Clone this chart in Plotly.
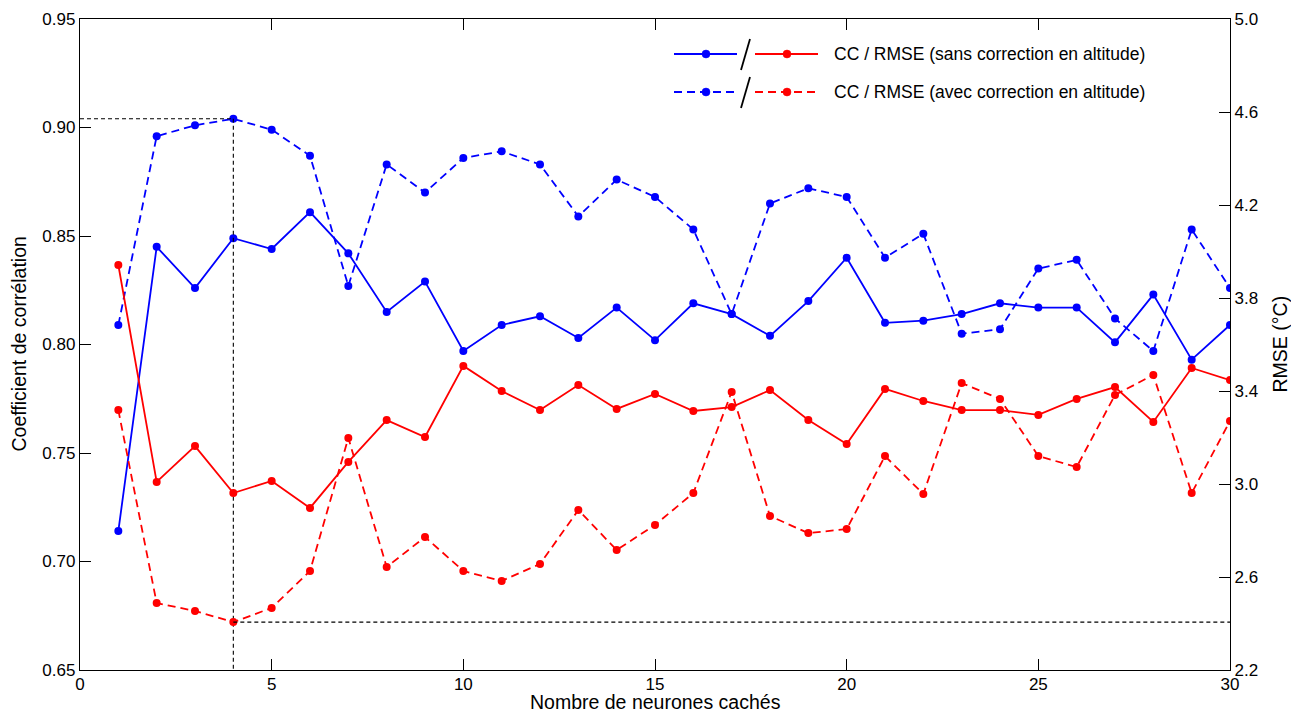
import plotly.graph_objects as go

# Nombre de neurones cachés
neurones = list(range(1, 31))

cc_sans = [0.714, 0.845, 0.826, 0.849, 0.844, 0.861, 0.842, 0.815, 0.829, 0.797,
           0.809, 0.813, 0.803, 0.817, 0.802, 0.819, 0.814, 0.804, 0.820, 0.840,
           0.810, 0.811, 0.814, 0.819, 0.817, 0.817, 0.801, 0.823, 0.793, 0.809]
cc_avec = [0.809, 0.896, 0.901, 0.904, 0.899, 0.887, 0.827, 0.883, 0.870, 0.886,
           0.889, 0.883, 0.859, 0.876, 0.868, 0.853, 0.814, 0.865, 0.872, 0.868,
           0.840, 0.851, 0.805, 0.807, 0.835, 0.839, 0.812, 0.797, 0.853, 0.826]
rmse_sans = [3.942, 3.009, 3.163, 2.961, 3.013, 2.897, 3.095, 3.275, 3.202, 3.508,
             3.400, 3.318, 3.426, 3.323, 3.387, 3.314, 3.331, 3.404, 3.275, 3.172,
             3.409, 3.357, 3.318, 3.318, 3.297, 3.366, 3.417, 3.267, 3.499, 3.447]
rmse_avec = [3.318, 2.488, 2.454, 2.406, 2.467, 2.626, 3.198, 2.643, 2.772, 2.626,
             2.583, 2.656, 2.888, 2.716, 2.824, 2.961, 3.396, 2.862, 2.789, 2.806,
             3.120, 2.957, 3.434, 3.366, 3.120, 3.073, 3.383, 3.469, 2.961, 3.271]

cc_ticks = [0.65, 0.70, 0.75, 0.80, 0.85, 0.90, 0.95]
rmse_ticks = [2.2, 2.6, 3.0, 3.4, 3.8, 4.2, 4.6, 5.0]
x_ticks = [0, 5, 10, 15, 20, 25, 30]

BLUE = "#0000ff"
RED = "#ff0000"
FONT = "Liberation Sans, Arial, sans-serif"

# page body has an 8px margin, so the figure is a bit smaller than the window
OFF = 8
W, H = 1299 - 2 * OFF, 722 - 2 * OFF
L, R, T, B = 80, 1230, 19, 670   # plot area in window pixels


def px_x(p):
    return (p - L) / (R - L)


def px_y(p):
    return (B - p) / (B - T)


fig = go.Figure()

line_w = 1.8
msize = 8
DASH = "8px,5px"

fig.add_trace(go.Scatter(x=neurones, y=cc_sans, mode="lines+markers", yaxis="y",
                         line=dict(color=BLUE, width=line_w),
                         marker=dict(color=BLUE, size=msize), showlegend=False))
fig.add_trace(go.Scatter(x=neurones, y=cc_avec, mode="lines+markers", yaxis="y",
                         line=dict(color=BLUE, width=line_w, dash=DASH),
                         marker=dict(color=BLUE, size=msize), showlegend=False))
fig.add_trace(go.Scatter(x=neurones, y=rmse_sans, mode="lines+markers", yaxis="y2",
                         line=dict(color=RED, width=line_w),
                         marker=dict(color=RED, size=msize), showlegend=False))
fig.add_trace(go.Scatter(x=neurones, y=rmse_avec, mode="lines+markers", yaxis="y2",
                         line=dict(color=RED, width=line_w, dash=DASH),
                         marker=dict(color=RED, size=msize), showlegend=False))

# optimum (avec correction)
i_best = cc_avec.index(max(cc_avec))
n_best = neurones[i_best]
ref = dict(color="black", width=1.1, dash="4px,3px")
fig.add_trace(go.Scatter(x=[0, n_best], y=[cc_avec[i_best]] * 2, mode="lines", yaxis="y",
                         line=ref, showlegend=False, hoverinfo="skip"))
fig.add_trace(go.Scatter(x=[n_best, n_best], y=[cc_avec[i_best], cc_ticks[0]], mode="lines",
                         yaxis="y", line=ref, showlegend=False, hoverinfo="skip"))
fig.add_trace(go.Scatter(x=[n_best, neurones[-1]], y=[rmse_avec[i_best]] * 2, mode="lines",
                         yaxis="y2", line=ref, showlegend=False, hoverinfo="skip"))

# custom legend: blue / red
shapes = []
annotations = []
rows = [(54, "solid", "CC / RMSE (sans correction en altitude)", 39, 70),
        (92, "dash", "CC / RMSE (avec correction en altitude)", 77, 108)]
for yy, dash, label, s_top, s_bot in rows:
    for x0, x1, xm, col in [(674, 737, 706, BLUE), (755, 818, 787, RED)]:
        ln = dict(color=col, width=line_w)
        if dash == "dash":
            ln["dash"] = DASH
        shapes.append(dict(type="line", xref="paper", yref="paper",
                           x0=px_x(x0), x1=px_x(x1), y0=px_y(yy), y1=px_y(yy), line=ln))
        shapes.append(dict(type="circle", xref="paper", yref="paper",
                           x0=px_x(xm - 4), x1=px_x(xm + 4),
                           y0=px_y(yy + 4), y1=px_y(yy - 4),
                           fillcolor=col, line=dict(color=col, width=0.5)))
    shapes.append(dict(type="line", xref="paper", yref="paper",
                       x0=px_x(741), x1=px_x(750), y0=px_y(s_bot), y1=px_y(s_top),
                       line=dict(color="black", width=1.8)))
    annotations.append(dict(xref="paper", yref="paper", x=px_x(832), y=px_y(yy),
                            xanchor="left", yanchor="middle", text=label, showarrow=False,
                            font=dict(size=17.5, color="black", family=FONT)))

# axis titles
title_font = dict(size=19.5, color="black", family=FONT)
annotations.append(dict(xref="paper", yref="paper", x=px_x((L + R) / 2),
                        y=px_y(H + OFF - 0.5), xanchor="center", yanchor="bottom",
                        showarrow=False, borderpad=0,
                        text="Nombre de neurones cachés", font=title_font))
annotations.append(dict(xref="paper", yref="paper", x=px_x(18), y=0.5, textangle=-90,
                        xanchor="center", yanchor="middle", showarrow=False,
                        text="Coefficient de corrélation", font=title_font))
annotations.append(dict(xref="paper", yref="paper", x=px_x(1279), y=0.5, textangle=-90,
                        xanchor="center", yanchor="middle", showarrow=False,
                        text="RMSE (°C)", font=title_font))

axis_common = dict(showline=True, linecolor="black", linewidth=1.3, ticks="inside",
                   ticklen=11, tickcolor="black", tickwidth=1.2, showgrid=False,
                   zeroline=False, automargin=False,
                   tickfont=dict(size=17, color="black", family=FONT))

fig.update_layout(
    width=W, height=H,
    margin=dict(l=L - OFF, r=(W + OFF) - R, t=T - OFF, b=(H + OFF) - B),
    plot_bgcolor="white", paper_bgcolor="white",
    font=dict(family=FONT, color="black"),
    xaxis=dict(range=[0, 30], tickvals=x_ticks, mirror="ticks", ticklabelstandoff=-2,
               **axis_common),
    yaxis=dict(range=[0.65, 0.95], tickvals=cc_ticks, tickformat=".2f", **axis_common),
    yaxis2=dict(range=[2.2, 5.0], tickvals=rmse_ticks, tickformat=".1f", overlaying="y",
                side="right", **axis_common),
    shapes=shapes,
    annotations=annotations,
)

fig.write_html("out.html")
